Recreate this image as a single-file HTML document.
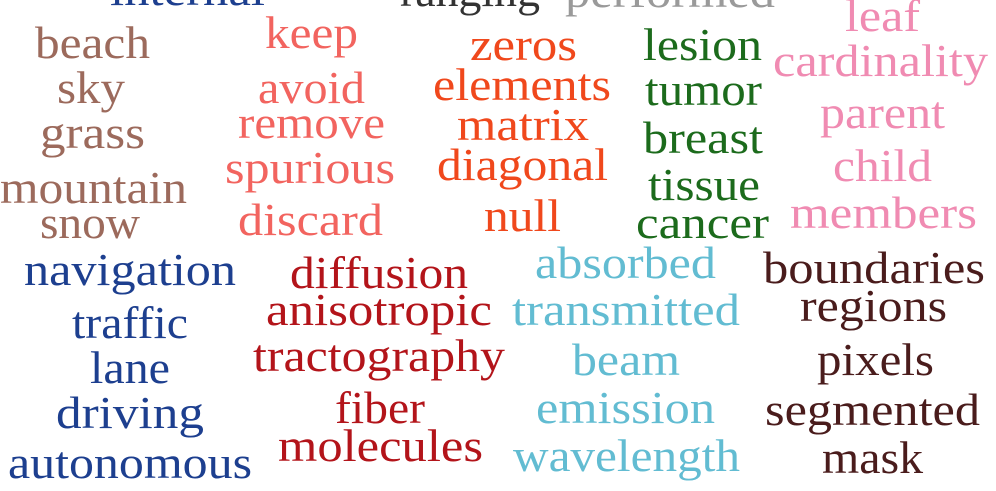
<!DOCTYPE html>
<html><head><meta charset="utf-8"><style>
html,body{margin:0;padding:0;background:#fff;width:996px;height:491px;overflow:hidden}
svg text{font-family:"Liberation Serif",serif;font-size:46px;text-anchor:middle}
</style></head><body>
<svg id="cloud" width="996" height="491" viewBox="0 0 996 491"></svg>
<script>
const words=["internal","ranging","performed","beach","sky","grass","mountain","snow","keep","avoid","remove","spurious","discard","zeros","elements","matrix","diagonal","null","lesion","tumor","breast","tissue","cancer","leaf","cardinality","parent","child","members","navigation","traffic","lane","driving","autonomous","diffusion","anisotropic","tractography","fiber","molecules","absorbed","transmitted","beam","emission","wavelength","boundaries","regions","pixels","segmented","mask"];
const groups=[0,10,9,1,1,1,1,1,2,2,2,2,2,3,3,3,3,3,4,4,4,4,4,5,5,5,5,5,0,0,0,0,0,6,6,6,6,6,7,7,7,7,7,8,8,8,8,8];
const palette=["#1d3f8f","#9c6a5c","#f2645f","#f0481c","#1c6b1c","#f08bb2","#b3141a","#62bcd2","#4a1c1c","#9a9a9a","#333333"];
const L=[[110,265,5],[400,540,6],[565,775,7],[35,150,58],[57,125,103],[40,145,148],[0,187,203],[40,140,238],[265,358,48],[258,365,103],[238,385,138],[225,395,183],[238,383,235],[470,577,60],[433,611,100],[457,589,140],[437,608,180],[484,561,231],[643,762,60],[645,762,105],[643,763,153],[648,760,200],[636,769,238],[845,920,31],[773,988,76],[820,945,128],[833,932,181],[790,977,228],[24,236,285],[72,188,338],[90,170,383],[56,204,428],[8,252,478],[290,468,288],[266,492,325],[253,505,371],[335,425,423],[278,483,461],[535,716,278],[512,740,325],[572,680,375],[536,715,423],[513,740,471],[763,985,283],[800,947,321],[817,934,375],[765,980,425],[822,923,473]];
const svg=document.getElementById('cloud');
words.forEach((w,i)=>{
  const t=document.createElementNS('http://www.w3.org/2000/svg','text');
  
  
  const [a,b,y]=L[i];
  t.setAttribute('x',(a+b)/2);t.setAttribute('y',y);
  t.setAttribute('textLength',b-a);t.setAttribute('lengthAdjust','spacingAndGlyphs');
  t.setAttribute('fill',palette[groups[i]]);
  t.textContent=w;svg.appendChild(t);
});
</script>
</body></html>
